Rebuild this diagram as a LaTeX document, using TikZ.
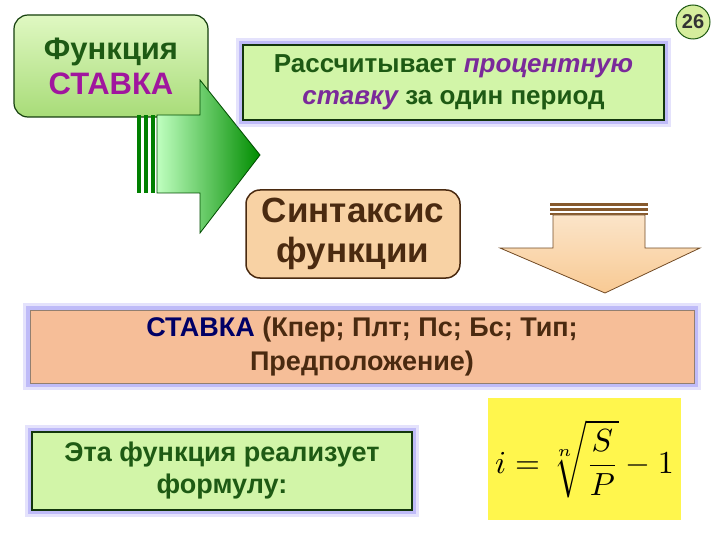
\documentclass[tikz,border=0pt]{standalone}
\usepackage{fontspec}
\setmainfont{Liberation Sans}
\definecolor{dgreen}{HTML}{1E5A14}
\definecolor{lgreen}{HTML}{D2F5A8}
\definecolor{mgreen}{HTML}{A8DC78}
\definecolor{peach}{HTML}{F8D2A4}
\definecolor{salmon}{HTML}{F6BE98}
\definecolor{brownt}{HTML}{4A2A10}
\definecolor{purp}{HTML}{7A2A9A}
\definecolor{mag}{HTML}{A0169E}
\definecolor{glow}{HTML}{7A70F0}
\tikzset{
  gbox/.style={draw=dgreen!70!black, line width=1.2pt, fill=lgreen},
  glowbox/.style={preaction={draw=glow, line width=14pt, draw opacity=0.2},
                  preaction={draw=glow, line width=8pt, draw opacity=0.35}},
  txt/.style={font=\bfseries, align=center}
}
\begin{document}
\begin{tikzpicture}[x=1pt,y=-1pt]
\useasboundingbox (0,0) rectangle (720,540);
% box1
\node[gbox, rounded corners=14pt, minimum width=194pt, minimum height=102pt, top color=lgreen!70!white, bottom color=mgreen] (f) at (111,66) {};
\node[txt, font=\bfseries\fontsize{31}{35}\selectfont, text=dgreen] (ft) at (111,66) {Функция\\\textcolor{mag}{СТАВКА}};
% green arrow
\fill[green!50!black] (137,115) rectangle (141,193);
\fill[green!50!black] (144,115) rectangle (148,193);
\fill[green!50!black] (151,115) rectangle (155,193);
\path[draw=green!30!black, left color=green!25!white, right color=green!55!black, line width=0.8pt]
  (157,115) -- (200,115) -- (200,80) -- (260,155) -- (200,233) -- (200,193) -- (157,193) -- cycle;
% box2
\node[gbox, glowbox, fill=lgreen, draw=dgreen!60!black, minimum width=421pt, minimum height=75pt] (r) at (453.5,82.5) {};
\node[txt, font=\bfseries\fontsize{26}{32}\selectfont, text=dgreen] at (r.center) {Рассчитывает \textcolor{purp}{\itshape процентную}\\\textcolor{purp}{\itshape ставку} за один период};
% box3
\node[draw=brownt, line width=1.5pt, fill=peach, rounded corners=14pt, minimum width=214pt, minimum height=88pt] (s) at (353,234) {};
\node[txt, font=\bfseries\fontsize{35}{40}\selectfont, text=brownt] at (s.center) {Синтаксис\\функции};
% down arrow
\fill[brown!70!black] (550,203) rectangle (648,206);
\fill[brown!70!black] (550,208) rectangle (648,211);
\fill[brown!70!black] (550,213) rectangle (648,215);
\path[draw=brown!60!black, top color=peach!60, bottom color=peach!90!orange, line width=0.8pt]
  (553,215) -- (645,215) -- (645,248) -- (700,248) -- (605,293) -- (500,248) -- (553,248) -- cycle;
% box4
\node[glowbox, draw=brownt!60, fill=salmon, minimum width=664pt, minimum height=73pt] (syn) at (362,346.5) {};
\node[txt, font=\bfseries\fontsize{27}{34}\selectfont, text=brownt] at (syn.center) {\textcolor{blue!40!black}{СТАВКА} (Кпер; Плт; Пс; Бс; Тип;\\Предположение)};
% box5
\node[gbox, glowbox, draw=dgreen!60!black, minimum width=380pt, minimum height=78pt] (e) at (222,471) {};
\node[txt, font=\bfseries\fontsize{27}{32}\selectfont, text=dgreen] at (e.center) {Эта функция  реализует\\формулу:};
% formula
\node[fill=yellow!70!white, minimum width=193pt, minimum height=122pt] (fm) at (584.5,459) {};
\node at (fm.center) {\scalebox{3.2}{$\displaystyle i=\sqrt[n]{\frac{S}{P}}-1$}};
% page number
\node[circle, draw=dgreen, line width=1pt, fill=yellow!60!green!40, minimum size=34pt, inner sep=0pt, font=\bfseries\fontsize{20}{22}\selectfont, text=black!80] (pg) at (693,22) {26};
\end{tikzpicture}
\end{document}
